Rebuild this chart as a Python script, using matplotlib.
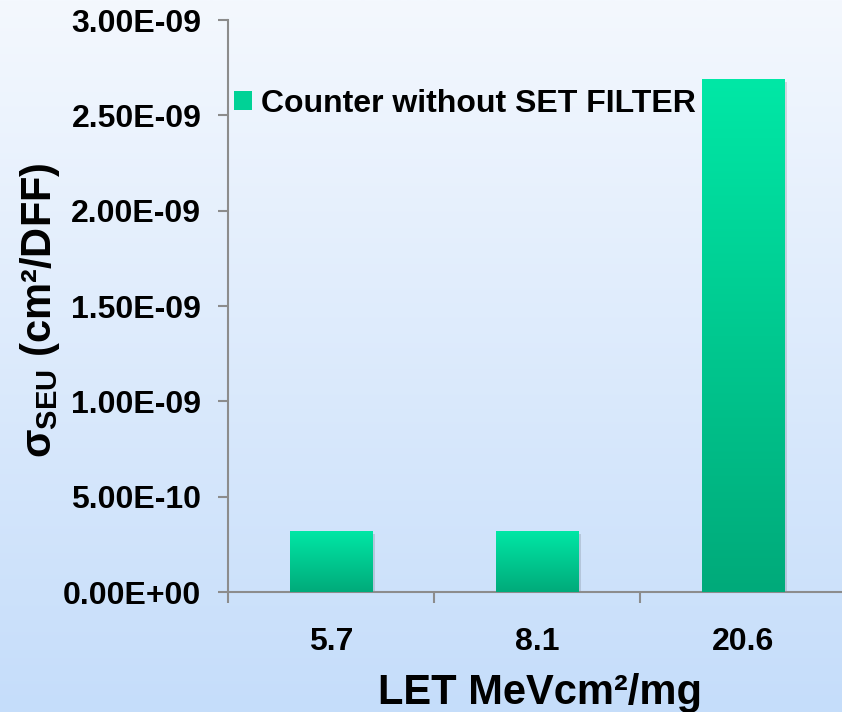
import numpy as np
import matplotlib
matplotlib.use("Agg")
import matplotlib.pyplot as plt
from matplotlib.colors import LinearSegmentedColormap
from matplotlib.patches import Patch, Rectangle
from matplotlib.ticker import FuncFormatter

# Cross-section data per LET value
let_labels = ["5.7", "8.1", "20.6"]
sigma_seu = [3.2e-10, 3.2e-10, 2.69e-9]
series_name = "Counter without SET FILTER"
y_ticks = [0.0, 0.5e-9, 1.0e-9, 1.5e-9, 2.0e-9, 2.5e-9, 3.0e-9]

plt.rcParams["font.family"] = ["Liberation Sans", "DejaVu Sans"]
plt.rcParams["font.weight"] = "bold"
plt.rcParams["mathtext.fontset"] = "custom"
plt.rcParams["mathtext.rm"] = "Liberation Sans:bold"
plt.rcParams["mathtext.bf"] = "Liberation Sans:bold"
plt.rcParams["mathtext.it"] = "Liberation Sans:bold"

AXIS_GREY = "#8c8c8c"
bg_cmap = LinearSegmentedColormap.from_list("bg", ["#c5ddfa", "#f4f8fe"])
bar_cmap = LinearSegmentedColormap.from_list("bar", ["#00aa7a", "#00e8a6"])

fig = plt.figure(figsize=(8.42, 7.12), dpi=100)

# soft blue background behind everything
bg = fig.add_axes([0, 0, 1, 1], zorder=-10)
bg.imshow(np.linspace(0, 1, 256).reshape(-1, 1), cmap=bg_cmap, aspect="auto",
          origin="lower", extent=[0, 1, 0, 1])
bg.set_axis_off()

ax = fig.add_axes([228 / 842, 120 / 712, 618 / 842, 572 / 712])
ax.patch.set_alpha(0)

x = np.arange(len(let_labels))
width = 0.40
bars = ax.bar(x, sigma_seu, width=width, color="none", zorder=3)

grad = np.linspace(0, 1, 256).reshape(-1, 1)
for bar in bars:
    x0, w, h = bar.get_x(), bar.get_width(), bar.get_height()
    # faint drop shadow
    ax.add_patch(Rectangle((x0 + 0.012, -1.5e-11), w, h, color="k", alpha=0.12,
                           lw=0, zorder=2))
    im = ax.imshow(grad, cmap=bar_cmap, aspect="auto", origin="lower",
                   extent=[x0, x0 + w, 0, h], zorder=3)
    im.set_clip_path(bar)

ax.set_xlim(-0.5, 2.5)
ax.set_ylim(0, 3e-9)

ax.set_yticks(y_ticks)
ax.yaxis.set_major_formatter(FuncFormatter(lambda v, _: f"{v:.2E}"))
ax.tick_params(axis="y", direction="out", length=7.2, width=1.5, color=AXIS_GREY,
               pad=12, labelsize=23)

ax.set_xticks(x)
ax.set_xticklabels(let_labels)
ax.set_xticks(np.arange(-0.5, 3, 1), minor=True)
ax.tick_params(axis="x", which="major", length=0, pad=25, labelsize=23)
ax.tick_params(axis="x", which="minor", direction="out", length=8, width=1.5,
               color=AXIS_GREY)

for side in ("top", "right"):
    ax.spines[side].set_visible(False)
for side in ("left", "bottom"):
    ax.spines[side].set_color(AXIS_GREY)
    ax.spines[side].set_linewidth(1.5)

ax.set_xlabel("LET MeVcm²/mg", fontsize=30, fontweight="bold")
ax.xaxis.set_label_coords(0.505, -0.142)
ax.set_ylabel(r"σ$_{\mathregular{SEU}}$ (cm²/DFF)", fontsize=30, fontweight="bold")
ax.yaxis.set_label_coords(-0.268, 0.493)

ax.legend(handles=[Patch(facecolor="#00d296", edgecolor="none", label=series_name)],
          loc="center left", bbox_to_anchor=(234 / 842, (712 - 104) / 712),
          bbox_transform=fig.transFigure, frameon=False, borderpad=0,
          borderaxespad=0, handlelength=0.55, handleheight=0.55,
          handletextpad=0.3, prop={"size": 23, "weight": "bold"})

fig.savefig("out.png", dpi=100)
